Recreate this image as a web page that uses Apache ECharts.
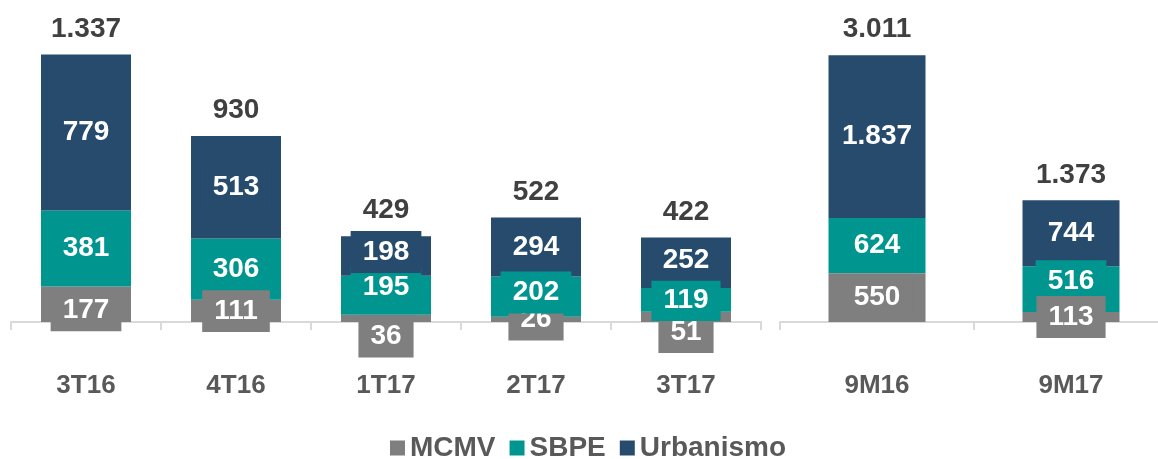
<!DOCTYPE html>
<html>
<head>
<meta charset="utf-8">
<script src="https://cdn.jsdelivr.net/npm/echarts@6/dist/echarts.min.js"></script>
<style>
  html, body { margin: 0; padding: 0; background: #fff; }
  #main { width: 1158px; height: 459px; }
</style>
</head>
<body>
<div id="main"></div>
<script>
// quarters (left block)
var quarters = ['3T16', '4T16', '1T17', '2T17', '3T17'];
var mcmvQ = [177, 111, 36, 26, 51];
var sbpeQ = [381, 306, 195, 202, 119];
var urbQ = [779, 513, 198, 294, 252];

// nine-month totals (right block)
var periods = ['9M16', '9M17'];
var mcmvP = [550, 113];
var sbpeP = [624, 516];
var urbP = [1837, 744];

var seriesNames = ['MCMV', 'SBPE', 'Urbanismo'];
var colors = ['#7f7f7f', '#00968f', '#264b6d'];

// small vertical nudges so crowded labels sit like in the original
var labelNudge = {
  'MCMV|3T16': 6, 'MCMV|1T17': 18, 'MCMV|3T17': 15,
  'SBPE|1T17': -8, 'SBPE|2T17': -4, 'SBPE|9M17': -8,
  'Urbanismo|1T17': -4, 'Urbanismo|3T17': -3
};

function fmt(v) {
  return String(v).replace(/\B(?=(\d{3})+(?!\d))/g, '.');
}

function sum(a, b, c) {
  return a.map(function (v, i) { return v + b[i] + c[i]; });
}

var font = 'Liberation Sans, Arial, sans-serif';

function stackSeries(name, data, cats, color, idx, barWidth, z) {
  return {
    name: name,
    type: 'bar',
    stack: 'g' + idx,
    xAxisIndex: idx,
    yAxisIndex: idx,
    barWidth: barWidth,
    z: z || 2,
    data: data.map(function (v, i) {
      var dy = labelNudge[name + '|' + cats[i]];
      return dy ? { value: v, label: { offset: [0, dy] } } : v;
    }),
    itemStyle: { color: color },
    label: {
      show: true,
      position: 'inside',
      formatter: function (p) { return fmt(p.value); },
      color: '#fff',
      fontFamily: font,
      fontWeight: 'bold',
      fontSize: 28,
      lineHeight: 28,
      backgroundColor: color,
      padding: [7, 12]
    }
  };
}

function totalSeries(data, idx) {
  return {
    type: 'scatter',
    xAxisIndex: idx,
    yAxisIndex: idx,
    symbolSize: 1,
    itemStyle: { color: 'rgba(0,0,0,0)', opacity: 1 },
    data: data,
    label: {
      show: true,
      position: 'top',
      distance: 11,
      formatter: function (p) { return fmt(p.value); },
      color: '#404040',
      fontFamily: font,
      fontWeight: 'bold',
      fontSize: 28
    }
  };
}

function xAxis(cats, idx) {
  return {
    type: 'category',
    gridIndex: idx,
    data: cats,
    axisLine: { lineStyle: { color: '#d9d9d9', width: 2 } },
    axisTick: { show: true, length: 8, lineStyle: { color: '#d9d9d9', width: 2 } },
    axisLabel: {
      margin: 51,
      color: '#595959',
      fontFamily: font,
      fontWeight: 'bold',
      fontSize: 26
    }
  };
}

var chartDom = document.getElementById('main');
var myChart = echarts.init(chartDom);
var option;

option = {
  animation: false,
  textStyle: { fontFamily: font },
  legend: {
    data: seriesNames,
    top: 434,
    left: 390,
    padding: 0,
    itemWidth: 15,
    itemHeight: 15,
    itemGap: 14,
    icon: 'rect',
    textStyle: {
      color: '#595959',
      fontFamily: font,
      fontWeight: 'bold',
      fontSize: 28
    }
  },
  grid: [
    { left: 11, width: 750, top: 42, bottom: 137, outerBoundsMode: 'none' },
    { left: 780, width: 388, top: 42, bottom: 137, outerBoundsMode: 'none' }
  ],
  xAxis: [xAxis(quarters, 0), xAxis(periods, 1)],
  yAxis: [
    { type: 'value', gridIndex: 0, min: 0, max: 1400, show: false, splitLine: { show: false } },
    { type: 'value', gridIndex: 1, min: 0, max: 3160, show: false, splitLine: { show: false } }
  ],
  series: [
    stackSeries('MCMV', mcmvQ, quarters, colors[0], 0, '60%'),
    stackSeries('SBPE', sbpeQ, quarters, colors[1], 0, '60%'),
    stackSeries('Urbanismo', urbQ, quarters, colors[2], 0, '60%'),
    totalSeries(sum(mcmvQ, sbpeQ, urbQ), 0),
    stackSeries('MCMV', mcmvP, periods, colors[0], 1, '50%', 3),
    stackSeries('SBPE', sbpeP, periods, colors[1], 1, '50%'),
    stackSeries('Urbanismo', urbP, periods, colors[2], 1, '50%'),
    totalSeries(sum(mcmvP, sbpeP, urbP), 1)
  ]
};

option && myChart.setOption(option);
</script>
</body>
</html>
